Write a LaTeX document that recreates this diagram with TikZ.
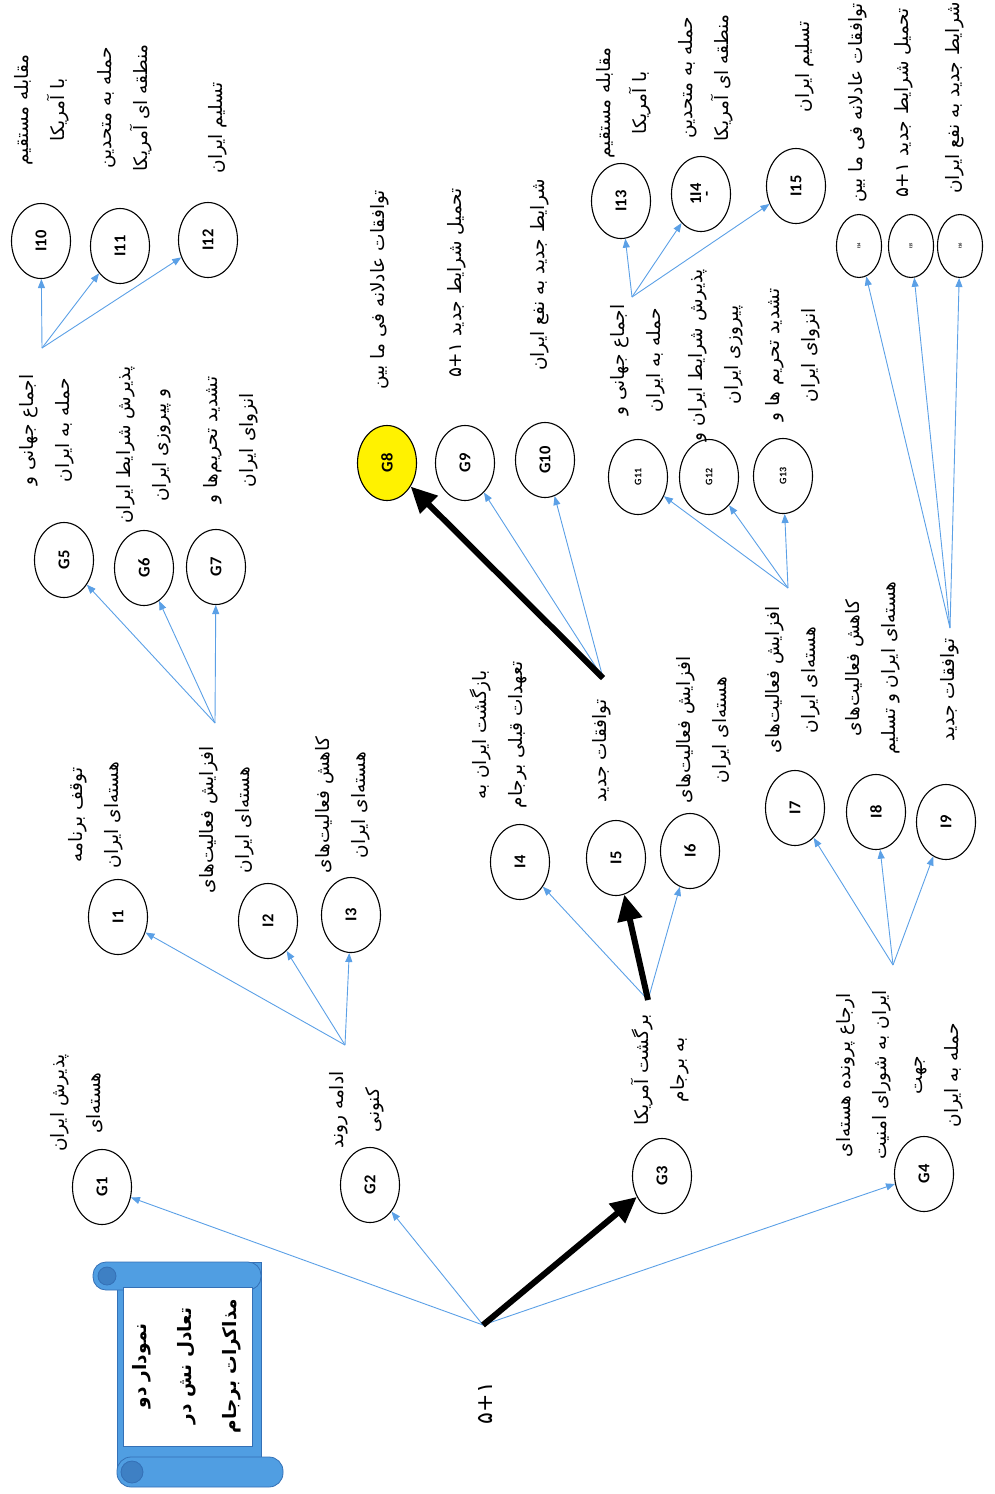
\documentclass[tikz,border=0pt]{standalone}
\usepackage{fontspec}
\usetikzlibrary{arrows.meta,shapes.geometric}
\TeXXeTstate=1
\newfontfamily\arabicfont[Script=Arabic]{DejaVu Sans}
\newfontfamily\latfont{Carlito}
\newcommand{\rl}[1]{\beginR #1\endR}
\newcommand{\pfive}{\beginL\mbox{۵}\mbox{+}\mbox{۱}\endL}
\definecolor{arrblue}{RGB}{91,160,230}
\definecolor{scblue}{RGB}{80,158,226}
\definecolor{scdark}{RGB}{52,112,182}
\definecolor{sccurl}{RGB}{62,128,196}
\tikzset{
 ell/.style={draw=black, line width=1.1pt, ellipse, rotate=90, minimum width=75pt, minimum height=59pt, inner sep=0pt, font=\latfont\bfseries\fontsize{16.5}{16.5}\selectfont},
 gsm/.style={ell, font=\latfont\bfseries\fontsize{10}{10}\selectfont},
 sell/.style={ell, minimum width=63pt, minimum height=45pt, font=\latfont\bfseries\fontsize{4.5}{4.5}\selectfont},
 lbl/.style={rotate=90, align=center, inner sep=0pt, font=\arabicfont\fontsize{18.5}{36}\selectfont},
 blu/.style={draw=arrblue, line width=0.9pt, -{Triangle[length=9pt,width=7pt]}},
 thk/.style={draw=black, line width=6pt, -{Triangle[length=26pt,width=24pt]}},
 sc/.style={fill=scblue, draw=scdark, line width=0.8pt},
}
\begin{document}
\begin{tikzpicture}[x=1pt,y=-1pt]
\useasboundingbox (0,0) rectangle (994,1494);
% title scroll
\draw[sc] (117,1262) rectangle (261,1470);
\draw[sc, rounded corners=13pt] (93,1262) rectangle (261,1290);
\draw[sc, rounded corners=14pt] (117,1457) rectangle (283,1487);
\draw[sc, fill=sccurl] (107,1276) circle (9);
\draw[sc, fill=sccurl] (132,1472) circle (11);
\draw[fill=white, draw=scdark, line width=0.6pt] (123,1287) rectangle (252,1446);
\node[lbl, font=\arabicfont\bfseries\fontsize{18.5}{45}\selectfont] (title) at (187,1366)
  {\rl{نمودار دو}\\\rl{تعادل نش در}\\\rl{مذاکرات برجام}};
% root
\node[lbl, font=\arabicfont\fontsize{22}{22}\selectfont] (root) at (485,1403) {\pfive};
\coordinate (h0) at (483,1325);
% ellipses
\node[ell] (G1) at (102,1187) {G1};
\node[ell] (G2) at (370,1185) {G2};
\node[ell] (G3) at (662,1176) {G3};
\node[ell] (G4) at (924,1174) {G4};
\node[ell] (I1) at (118,917) {I1};
\node[ell] (I2) at (268,921) {I2};
\node[ell] (I3) at (351,915) {I3};
\node[ell] (I4) at (520,862) {I4};
\node[ell] (I5) at (616,858) {I5};
\node[ell] (I6) at (690,851) {I6};
\node[ell] (I7) at (795,808) {I7};
\node[ell] (I8) at (876,812) {I8};
\node[ell] (I9) at (946,822) {I9};
\node[ell] (G5) at (64,560) {G5};
\node[ell] (G6) at (144,568) {G6};
\node[ell] (G7) at (216,567) {G7};
\node[ell, fill=yellow] (G8) at (387,463) {G8};
\node[ell] (G9) at (465,463) {G9};
\node[ell] (G10) at (545,460) {G10};
\node[gsm] (G11) at (638,477) {G11};
\node[gsm] (G12) at (709,477) {G12};
\node[gsm] (G13) at (783,476) {G13};
\node[ell] (I10) at (41,241) {I10};
\node[ell] (I11) at (120,246) {I11};
\node[ell] (I12) at (208,240) {I12};
\node[ell] (I13) at (621,201) {I13};
\node[ell, align=center] (I14) at (701,194) {1I4\\[-6pt]{-}};
\node[ell] (I15) at (796,186) {I15};
\node[sell] (J14) at (859,246) {I14};
\node[sell] (J15) at (911,246) {I15};
\node[sell] (J16) at (960,246) {I16};
% labels
\node[lbl] (lG1) at (77,1103) {\rl{پذیرش ایران}\\\rl{هسته‌ای}};
\node[lbl] (lG2) at (357,1110) {\rl{ادامه روند}\\\rl{کنونی}};
\node[lbl] (lG3) at (660,1070) {\rl{برگشت آمریکا}\\\rl{به برجام}};
\node[lbl] (lG4) at (900,1075) {\rl{ارجاع پرونده هسته‌ای}\\\rl{ایران به شورای امنیت}\\\rl{جهت}\\\rl{حمله به ایران}};
\node[lbl] (lI1) at (96,815) {\rl{توقف برنامه}\\\rl{هسته‌ای ایران}};
\node[lbl] (lI2) at (227,820) {\rl{افزایش فعالیت‌های}\\\rl{هسته‌ای ایران}};
\node[lbl] (lI3) at (343,805) {\rl{کاهش فعالیت‌های}\\\rl{هسته‌ای ایران}};
\node[lbl] (lI4) at (498,735) {\rl{بازگشت ایران به}\\\rl{تعهدات قبلی برجام}};
\node[lbl] (lI5) at (602,751) {\rl{توافقات جدید}};
\node[lbl] (lI6) at (704,730) {\rl{افزایش فعالیت‌های}\\\rl{هسته‌ای ایران}};
\node[lbl] (lI7) at (793,680) {\rl{افزایش فعالیت‌های}\\\rl{هسته‌ای ایران}};
\node[lbl] (lI8) at (873,668) {\rl{کاهش فعالیت‌های}\\\rl{هسته‌ای ایران  و تسلیم}};
\node[lbl] (lI9) at (950,690) {\rl{توافقات جدید}};
\node[lbl] (lG5) at (47,430) {\rl{اجماع جهانی و}\\\rl{حمله به ایران}};
\node[lbl] (lG6) at (144,445) {\rl{پذیرش شرایط ایران}\\\rl{و پیروزی ایران}};
\node[lbl] (lG7) at (231,440) {\rl{تشدید تحریم‌ها و}\\\rl{انزوای ایران}};
\node[lbl] (lG8) at (380,290) {\rl{توافقات عادلانه فی ما بین}};
\node[lbl] (lG9) at (457,283) {\rl{تحمیل شرایط جدید \pfive}};
\node[lbl] (lG10) at (540,275) {\rl{شرایط جدید به نفع ایران}};
\node[lbl] (lG11) at (638,360) {\rl{اجماع جهانی و}\\\rl{حمله به ایران}};
\node[lbl] (lG12) at (716,355) {\rl{پذیرش شرایط ایران و}\\\rl{پیروزی ایران}};
\node[lbl] (lG13) at (793,355) {\rl{تشدید تحریم ها و}\\\rl{انزوای ایران}};
\node[lbl] (lI10) at (42,110) {\rl{مقابله مستقیم}\\\rl{با آمریکا}};
\node[lbl] (lI11) at (125,108) {\rl{حمله به متحدین}\\\rl{منطقه ای آمریکا}};
\node[lbl] (lI12) at (218,128) {\rl{تسلیم ایران}};
\node[lbl] (lI13) at (624,103) {\rl{مقابله مستقیم}\\\rl{با آمریکا}};
\node[lbl] (lI14) at (706,78) {\rl{حمله به متحدین}\\\rl{منطقه ای آمریکا}};
\node[lbl] (lI15) at (805,67) {\rl{تسلیم ایران}};
\node[lbl] (lJ14) at (858,103) {\rl{توافقات عادلانه فی ما بین}};
\node[lbl] (lJ15) at (904,103) {\rl{تحمیل شرایط جدید \pfive}};
\node[lbl] (lJ16) at (955,98) {\rl{شرایط جدید به نفع ایران}};
% hubs
\coordinate (hG2) at (345,1045);
\coordinate (hG3) at (648,1000);
\coordinate (hG4) at (893,965);
\coordinate (hI2) at (215,723);
\coordinate (hI5) at (603,678);
\coordinate (hI7) at (788,588);
\coordinate (hI9) at (950,628);
\coordinate (hG5) at (42,348);
\coordinate (hG11) at (632,297);
% connectors
\draw[blu] (h0) -- (G1);
\draw[blu] (h0) -- (G2);
\draw[blu] (h0) -- (G4);
\draw[thk] (h0) -- (G3);
\draw[blu] (hG2) -- (I1);
\draw[blu] (hG2) -- (I2);
\draw[blu] (hG2) -- (I3);
\draw[blu] (hG3) -- (I4);
\draw[blu] (hG3) -- (I6);
\draw[thk] (hG3) -- (I5);
\draw[blu] (hG4) -- (I7);
\draw[blu] (hG4) -- (I8);
\draw[blu] (hG4) -- (I9);
\draw[blu] (hI2) -- (G5);
\draw[blu] (hI2) -- (G6);
\draw[blu] (hI2) -- (G7);
\draw[blu] (hI5) -- (G9);
\draw[blu] (hI5) -- (G10);
\draw[thk] (hI5) -- (G8);
\draw[blu] (hI7) -- (G11);
\draw[blu] (hI7) -- (G12);
\draw[blu] (hI7) -- (G13);
\draw[blu] (hI9) -- (J14);
\draw[blu] (hI9) -- (J15);
\draw[blu] (hI9) -- (J16);
\draw[blu] (hG5) -- (I10);
\draw[blu] (hG5) -- (I11);
\draw[blu] (hG5) -- (I12);
\draw[blu] (hG11) -- (I13);
\draw[blu] (hG11) -- (I14);
\draw[blu] (hG11) -- (I15);
\end{tikzpicture}
\end{document}
